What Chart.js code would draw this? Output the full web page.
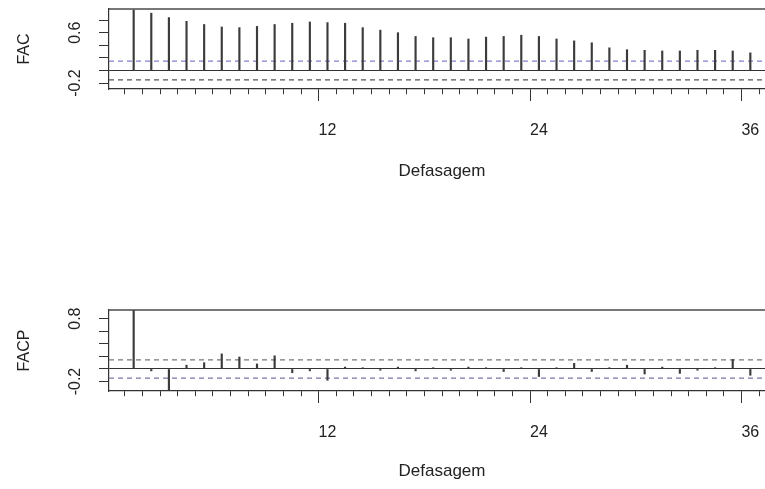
<!DOCTYPE html>
<html>
<head>
<meta charset="utf-8">
<script src="https://cdn.jsdelivr.net/npm/chart.js@4.4.0/dist/chart.umd.min.js"></script>
<style>
  html, body { margin: 0; padding: 0; background: #fff; }
  #wrap { position: relative; width: 765px; height: 489px; overflow: hidden; }
  .panel { position: absolute; left: 0; width: 800px; height: 200px; }
</style>
</head>
<body>
<div id="wrap">
  <div class="panel" style="top:0"><canvas id="facChart"></canvas></div>
  <div class="panel" style="top:300px"><canvas id="facpChart"></canvas></div>
</div>
<script>
const lags = [1, 2, 3, 4, 5, 6, 7, 8, 9, 10, 11, 12, 13, 14, 15, 16, 17, 18,
  19, 20, 21, 22, 23, 24, 25, 26, 27, 28, 29, 30, 31, 32, 33, 34, 35, 36];
const facValues = [0.96, 0.91, 0.84, 0.78, 0.73, 0.69, 0.68, 0.70, 0.73, 0.75, 0.77, 0.76,
  0.75, 0.68, 0.64, 0.60, 0.54, 0.52, 0.52, 0.50, 0.53, 0.54, 0.56, 0.54,
  0.50, 0.47, 0.44, 0.36, 0.33, 0.32, 0.31, 0.31, 0.32, 0.32, 0.31, 0.28];
const facpValues = [0.93, -0.03, -0.33, 0.06, 0.10, 0.24, 0.19, 0.08, 0.21, -0.06, -0.03, -0.18,
  0.03, 0.02, -0.02, 0.03, -0.03, 0.02, -0.02, 0.03, 0.02, -0.04, 0.02, -0.12,
  0.02, 0.09, -0.04, 0.02, 0.06, -0.08, 0.03, -0.07, -0.02, 0.02, 0.15, -0.10];
const facLimit = 0.15;
const facpLimit = 0.145;
const facTicks = [-0.2, 0, 0.2, 0.4, 0.6, 0.8];
const facTickLabels = [-0.2, 0.6];
const facpTicks = [-0.2, 0, 0.2, 0.4, 0.6, 0.8];
const facpTickLabels = [-0.2, 0.8];
const lagTickLabels = [12, 24, 36];

const xMin = -0.4, xMax = 37.4;
const FONT = { family: "'Liberation Sans', Arial, sans-serif", size: 16 };
const TITLE_FONT = { family: "'Liberation Sans', Arial, sans-serif", size: 17 };

function limitLine(value, color) {
  return {
    type: "line",
    data: [{ x: xMin, y: value }, { x: xMax, y: value }],
    borderColor: color,
    borderWidth: 1.2,
    borderDash: [5, 4],
    pointRadius: 0,
  };
}

function makePanel(id, opts) {
  const bars = lags.map((l, i) => ({ x: l, y: opts.values[i] }));
  return new Chart(document.getElementById(id), {
    type: "bar",
    data: {
      datasets: [
        { data: bars, backgroundColor: "#3c3c3c", barThickness: 1.5 },
        limitLine(opts.limit, opts.upperColor),
        limitLine(-opts.limit, opts.lowerColor),
      ],
    },
    options: {
      responsive: true,
      maintainAspectRatio: false,
      animation: false,
      layout: { padding: { top: opts.top, right: 25, left: 0, bottom: 0 } },
      plugins: { legend: { display: false }, tooltip: { enabled: false } },
      scales: {
        x: {
          type: "linear",
          min: xMin,
          max: xMax,
          offset: false,
          afterBuildTicks: (s) => { s.ticks = lags.map((v) => ({ value: v })); },
          afterFit: (s) => { s.height = opts.xHeight; s.paddingLeft = 0; s.paddingRight = 0; },
          grid: {
            drawOnChartArea: false,
            tickLength: 12,
            tickColor: "#333",
            tickBorderDash: (c) => (lagTickLabels.includes(c.tick && c.tick.value) ? [] : [5, 50]),
          },
          border: { color: "#333", width: 1.2 },
          ticks: {
            autoSkip: false,
            maxRotation: 0,
            padding: 20,
            color: "#222",
            font: FONT,
            callback: (v) => (lagTickLabels.includes(v) ? String(v) : ""),
          },
          title: { display: true, text: "Defasagem", color: "#222", font: TITLE_FONT, padding: { top: 18, bottom: 18 } },
        },
        xTop: {
          type: "linear",
          position: "top",
          min: xMin,
          max: xMax,
          afterFit: (s) => { s.height = 0; },
          grid: { display: false },
          ticks: { display: false },
          border: { color: "#777", width: 2 },
        },
        y: {
          min: opts.yMin,
          max: opts.yMax,
          afterBuildTicks: (s) => { s.ticks = opts.ticks.map((v) => ({ value: v })); },
          afterFit: (s) => { s.width = 109; s.paddingTop = 0; s.paddingBottom = 0; },
          grid: {
            color: (c) => (c.tick && c.tick.value === 0 ? "#333" : "rgba(0,0,0,0)"),
            tickColor: "#333",
            tickLength: 10,
          },
          border: { color: "#333", width: 1.2 },
          ticks: {
            autoSkip: false,
            minRotation: 90,
            maxRotation: 90,
            crossAlign: "center",
            padding: 10,
            color: "#222",
            font: FONT,
            callback: (v) => (opts.labels.includes(v) ? String(v) : ""),
          },
          title: { display: true, text: opts.title, color: "#222", font: FONT, padding: { top: 15, bottom: 15 } },
        },
      },
    },
  });
}

makePanel("facChart", {
  values: facValues, limit: facLimit, ticks: facTicks, labels: facTickLabels,
  yMin: -0.294, yMax: 0.976, top: 9, xHeight: 111, title: "FAC",
  upperColor: "#8080d0", lowerColor: "#555",
});

makePanel("facpChart", {
  values: facpValues, limit: facpLimit, ticks: facpTicks, labels: facpTickLabels,
  yMin: -0.35, yMax: 0.937, top: 10, xHeight: 109, title: "FACP",
  upperColor: "#777", lowerColor: "#7878a8",
});
</script>
</body>
</html>
